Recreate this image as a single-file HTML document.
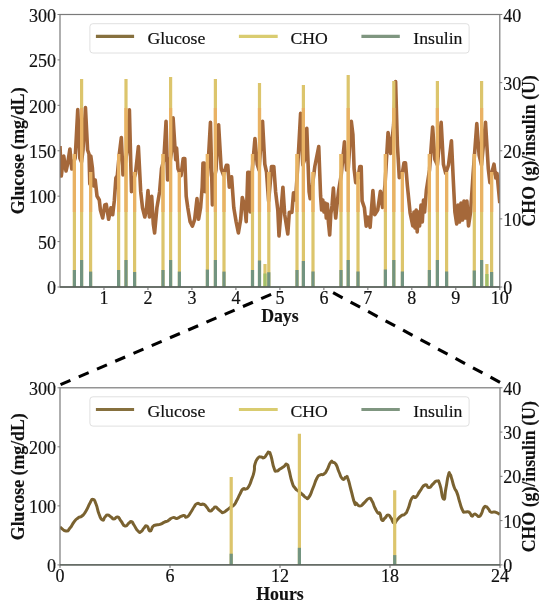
<!DOCTYPE html><html><head><meta charset="utf-8"><style>html,body{margin:0;padding:0;background:#fff;}svg{display:block;will-change:transform;}text{font-family:"Liberation Serif",serif;fill:#111;stroke:#111;stroke-width:0.18px;}text[font-weight]{stroke-width:0.15px;}</style></head><body>
<svg width="550" height="611" viewBox="0 0 550 611">
<rect width="550" height="611" fill="#fff"/>
<defs><clipPath id="ct"><rect x="60.0" y="14.5" width="439.8" height="272.5"/></clipPath><clipPath id="cb"><rect x="60.0" y="387.8" width="440" height="177.1"/></clipPath></defs>
<g clip-path="url(#ct)">
<polyline points="60,146 61.3,176 63.7,156 66,171 67.6,164 69.9,149 71.8,169 73.5,163 75.2,158 77.75,109.5 79.8,158 81.5,162 83,150 85.45,107.5 87.6,150 89,154 89.8,184 90.8,156 92.4,168 93.6,186 95.2,180 97,196 99.3,200 100.4,210 102.7,218 104.8,205 106.3,204.4 108.6,219.3 110.9,207.8 112.7,214.7 114.3,200.9 115.9,178 117.3,175.7 119.2,155 121.35,137.5 123,175 125,165 127.2,150 129.4,109.8 131.5,191.7 133.5,180 135.5,173.4 138.4,146.5 140.7,191.7 142.5,207.8 144.8,217 146.4,210 148,190.6 149.4,217 151.7,196.3 153.3,223.9 154.6,233 156.9,207.8 159.6,191.7 161.5,168.8 163.8,160 166.05,121.3 167.6,180 169.5,165 171.8,150 173.1,117.8 175.7,159.6 176.6,148 178,168.8 181,175.7 183.2,158.5 184.8,158.5 186.2,196.3 187.8,207.8 190.1,221.6 192.4,226.1 194.7,219.3 197,198.6 198.6,219.3 200.6,207.8 202.2,187.2 203,163.1 204.3,163.1 205.2,191.7 207.5,175 210.45,122.4 212.4,205 214,180 216,170 218.6,124.7 221.2,168.8 223.5,175 226.3,165.4 227.8,165.4 229.3,187.2 231.6,176.8 233.8,207.8 236.1,221.6 238.4,233 240.7,219.3 242.3,197.5 244.6,205.5 246.2,221.6 247.8,172.2 249.2,172.2 250.2,212 252.3,170 254.95,138.5 257.2,164.2 259,170 262.55,121.3 264.8,164.2 266.5,172 268.6,201 270.5,180 271.5,166.5 273.8,166.5 275.6,191.7 277.8,210 279,236 282.9,187.2 284.7,214.7 287.8,234 289.3,212.4 291.9,212.4 293.5,192.9 295.5,200 297.5,170 300.6,113.3 302.8,165 304.5,160 306.8,128.2 309.1,191.7 310.2,198.6 312.5,185 314.8,166.5 318.75,146.5 320.6,196 321.6,210 322.8,200 324,212 325.2,203 326.3,218 327.4,204 328.4,222 329.7,235 330.8,214 332,206 333.4,188 334.5,205 335.7,218 337,205 338.7,190 341.2,175 344.45,141.9 346.6,170 348.3,168 351.3,121.3 352.9,134.4 354.1,168.8 355.7,182.6 358,178 359.8,166.5 361.2,166.5 362.1,200.9 364.4,207.8 366.2,226.1 367.8,217 370.1,227.3 372.9,190.6 374.7,214.7 377.7,210 380.4,191.2 382.6,207.4 385,185 388.05,132.6 390.7,153.4 393.6,125 395.6,81.5 397.4,145 399.3,177.7 402,175 404,162.8 405.5,162.8 407.4,185.8 410.1,212.8 412.8,226 414,212 415,228 416.2,210 417.2,232 418.5,212 419.6,226 421,205 422.3,222 423.5,200 424.6,212 426.4,190 429.5,170 432.65,127 434.9,159.6 437.4,165 441.15,122.4 443.4,164.2 445.7,173.4 448.5,165 451.45,140.8 453.3,180.3 454.9,212 456.7,224 458,205 459.5,222 461,203 462.5,220 464,201 465.5,218 466.9,201 468.5,226 470.6,212 473,175 476.8,123.6 479.1,155 481.5,165 485.5,122.4 488.3,168.8 489.9,182.6 492,172 494,164.2 495.8,178 497,173.4 499.8,203.2" fill="none" stroke="#a5683a" stroke-width="3.6" stroke-linejoin="round" stroke-linecap="butt"/>
<line x1="74.4" y1="287" x2="74.4" y2="154" stroke="#dcc56c" stroke-width="3.2" stroke-opacity="1"/>
<line x1="74.4" y1="154" x2="74.4" y2="212" stroke="#e9b264" stroke-width="3.2"/>
<line x1="81.6" y1="287" x2="81.6" y2="79" stroke="#dcc56c" stroke-width="3.2" stroke-opacity="1"/>
<line x1="81.6" y1="108" x2="81.6" y2="212" stroke="#e9b264" stroke-width="3.2"/>
<line x1="90.6" y1="287" x2="90.6" y2="172" stroke="#dcc56c" stroke-width="3.2" stroke-opacity="1"/>
<line x1="90.6" y1="172" x2="90.6" y2="212" stroke="#e9b264" stroke-width="3.2"/>
<line x1="118.6" y1="287" x2="118.6" y2="154" stroke="#dcc56c" stroke-width="3.2" stroke-opacity="1"/>
<line x1="118.6" y1="154" x2="118.6" y2="212" stroke="#e9b264" stroke-width="3.2"/>
<line x1="126" y1="287" x2="126" y2="79" stroke="#dcc56c" stroke-width="3.2" stroke-opacity="1"/>
<line x1="126" y1="108" x2="126" y2="212" stroke="#e9b264" stroke-width="3.2"/>
<line x1="134.6" y1="287" x2="134.6" y2="172" stroke="#dcc56c" stroke-width="3.2" stroke-opacity="1"/>
<line x1="134.6" y1="172" x2="134.6" y2="212" stroke="#e9b264" stroke-width="3.2"/>
<line x1="163" y1="287" x2="163" y2="154" stroke="#dcc56c" stroke-width="3.2" stroke-opacity="1"/>
<line x1="163" y1="154" x2="163" y2="212" stroke="#e9b264" stroke-width="3.2"/>
<line x1="170.6" y1="287" x2="170.6" y2="77" stroke="#dcc56c" stroke-width="3.2" stroke-opacity="1"/>
<line x1="170.6" y1="108" x2="170.6" y2="212" stroke="#e9b264" stroke-width="3.2"/>
<line x1="179.4" y1="287" x2="179.4" y2="172" stroke="#dcc56c" stroke-width="3.2" stroke-opacity="1"/>
<line x1="179.4" y1="172" x2="179.4" y2="212" stroke="#e9b264" stroke-width="3.2"/>
<line x1="207.4" y1="287" x2="207.4" y2="154" stroke="#dcc56c" stroke-width="3.2" stroke-opacity="1"/>
<line x1="207.4" y1="154" x2="207.4" y2="212" stroke="#e9b264" stroke-width="3.2"/>
<line x1="215.4" y1="287" x2="215.4" y2="79" stroke="#dcc56c" stroke-width="3.2" stroke-opacity="1"/>
<line x1="215.4" y1="108" x2="215.4" y2="212" stroke="#e9b264" stroke-width="3.2"/>
<line x1="224" y1="287" x2="224" y2="172" stroke="#dcc56c" stroke-width="3.2" stroke-opacity="1"/>
<line x1="224" y1="172" x2="224" y2="212" stroke="#e9b264" stroke-width="3.2"/>
<line x1="252.5" y1="287" x2="252.5" y2="154" stroke="#dcc56c" stroke-width="3.2" stroke-opacity="1"/>
<line x1="252.5" y1="154" x2="252.5" y2="212" stroke="#e9b264" stroke-width="3.2"/>
<line x1="259.5" y1="287" x2="259.5" y2="83" stroke="#dcc56c" stroke-width="3.2" stroke-opacity="1"/>
<line x1="259.5" y1="108" x2="259.5" y2="212" stroke="#e9b264" stroke-width="3.2"/>
<line x1="265" y1="287" x2="265" y2="264" stroke="#dcc56c" stroke-width="3.2" stroke-opacity="1"/>
<line x1="268.8" y1="287" x2="268.8" y2="172" stroke="#dcc56c" stroke-width="3.2" stroke-opacity="1"/>
<line x1="268.8" y1="172" x2="268.8" y2="212" stroke="#e9b264" stroke-width="3.2"/>
<line x1="297" y1="287" x2="297" y2="154" stroke="#dcc56c" stroke-width="3.2" stroke-opacity="1"/>
<line x1="297" y1="154" x2="297" y2="212" stroke="#e9b264" stroke-width="3.2"/>
<line x1="303.4" y1="287" x2="303.4" y2="85" stroke="#dcc56c" stroke-width="3.2" stroke-opacity="1"/>
<line x1="303.4" y1="108" x2="303.4" y2="212" stroke="#e9b264" stroke-width="3.2"/>
<line x1="313" y1="287" x2="313" y2="172" stroke="#dcc56c" stroke-width="3.2" stroke-opacity="1"/>
<line x1="313" y1="172" x2="313" y2="212" stroke="#e9b264" stroke-width="3.2"/>
<line x1="341" y1="287" x2="341" y2="154" stroke="#dcc56c" stroke-width="3.2" stroke-opacity="1"/>
<line x1="341" y1="154" x2="341" y2="212" stroke="#e9b264" stroke-width="3.2"/>
<line x1="348.2" y1="287" x2="348.2" y2="75" stroke="#dcc56c" stroke-width="3.2" stroke-opacity="1"/>
<line x1="348.2" y1="108" x2="348.2" y2="212" stroke="#e9b264" stroke-width="3.2"/>
<line x1="358" y1="287" x2="358" y2="172" stroke="#dcc56c" stroke-width="3.2" stroke-opacity="1"/>
<line x1="358" y1="172" x2="358" y2="212" stroke="#e9b264" stroke-width="3.2"/>
<line x1="385.4" y1="287" x2="385.4" y2="154" stroke="#dcc56c" stroke-width="3.2" stroke-opacity="1"/>
<line x1="385.4" y1="154" x2="385.4" y2="212" stroke="#e9b264" stroke-width="3.2"/>
<line x1="393.8" y1="287" x2="393.8" y2="81" stroke="#dcc56c" stroke-width="3.2" stroke-opacity="1"/>
<line x1="393.8" y1="108" x2="393.8" y2="212" stroke="#e9b264" stroke-width="3.2"/>
<line x1="402.4" y1="287" x2="402.4" y2="172" stroke="#dcc56c" stroke-width="3.2" stroke-opacity="1"/>
<line x1="402.4" y1="172" x2="402.4" y2="212" stroke="#e9b264" stroke-width="3.2"/>
<line x1="429.4" y1="287" x2="429.4" y2="154" stroke="#dcc56c" stroke-width="3.2" stroke-opacity="1"/>
<line x1="429.4" y1="154" x2="429.4" y2="212" stroke="#e9b264" stroke-width="3.2"/>
<line x1="437.4" y1="287" x2="437.4" y2="81" stroke="#dcc56c" stroke-width="3.2" stroke-opacity="1"/>
<line x1="437.4" y1="108" x2="437.4" y2="212" stroke="#e9b264" stroke-width="3.2"/>
<line x1="446.6" y1="287" x2="446.6" y2="172" stroke="#dcc56c" stroke-width="3.2" stroke-opacity="1"/>
<line x1="446.6" y1="172" x2="446.6" y2="212" stroke="#e9b264" stroke-width="3.2"/>
<line x1="474.3" y1="287" x2="474.3" y2="154" stroke="#dcc56c" stroke-width="3.2" stroke-opacity="1"/>
<line x1="474.3" y1="154" x2="474.3" y2="212" stroke="#e9b264" stroke-width="3.2"/>
<line x1="481.6" y1="287" x2="481.6" y2="81" stroke="#dcc56c" stroke-width="3.2" stroke-opacity="1"/>
<line x1="481.6" y1="108" x2="481.6" y2="212" stroke="#e9b264" stroke-width="3.2"/>
<line x1="486.9" y1="287" x2="486.9" y2="264" stroke="#dcc56c" stroke-width="3.2" stroke-opacity="1"/>
<line x1="491.6" y1="287" x2="491.6" y2="172" stroke="#dcc56c" stroke-width="3.2" stroke-opacity="1"/>
<line x1="491.6" y1="172" x2="491.6" y2="212" stroke="#e9b264" stroke-width="3.2"/>
<line x1="74.4" y1="287" x2="74.4" y2="270" stroke="#739480" stroke-width="3.2"/>
<line x1="81.6" y1="287" x2="81.6" y2="260" stroke="#739480" stroke-width="3.2"/>
<line x1="90.6" y1="287" x2="90.6" y2="271.6" stroke="#739480" stroke-width="3.2"/>
<line x1="118.6" y1="287" x2="118.6" y2="270" stroke="#739480" stroke-width="3.2"/>
<line x1="126" y1="287" x2="126" y2="260" stroke="#739480" stroke-width="3.2"/>
<line x1="134.6" y1="287" x2="134.6" y2="272" stroke="#739480" stroke-width="3.2"/>
<line x1="163" y1="287" x2="163" y2="270" stroke="#739480" stroke-width="3.2"/>
<line x1="170.6" y1="287" x2="170.6" y2="260" stroke="#739480" stroke-width="3.2"/>
<line x1="179.4" y1="287" x2="179.4" y2="271.6" stroke="#739480" stroke-width="3.2"/>
<line x1="207.4" y1="287" x2="207.4" y2="269.6" stroke="#739480" stroke-width="3.2"/>
<line x1="215.4" y1="287" x2="215.4" y2="260" stroke="#739480" stroke-width="3.2"/>
<line x1="224" y1="287" x2="224" y2="271.6" stroke="#739480" stroke-width="3.2"/>
<line x1="252.5" y1="287" x2="252.5" y2="270" stroke="#739480" stroke-width="3.2"/>
<line x1="259.5" y1="287" x2="259.5" y2="260.5" stroke="#739480" stroke-width="3.2"/>
<line x1="265" y1="287" x2="265" y2="273.5" stroke="#a2bf6a" stroke-width="3.2"/>
<line x1="268.8" y1="287" x2="268.8" y2="272.3" stroke="#739480" stroke-width="3.2"/>
<line x1="297" y1="287" x2="297" y2="270" stroke="#739480" stroke-width="3.2"/>
<line x1="303.4" y1="287" x2="303.4" y2="261" stroke="#739480" stroke-width="3.2"/>
<line x1="313" y1="287" x2="313" y2="271.6" stroke="#739480" stroke-width="3.2"/>
<line x1="341" y1="287" x2="341" y2="270" stroke="#739480" stroke-width="3.2"/>
<line x1="348.2" y1="287" x2="348.2" y2="260" stroke="#739480" stroke-width="3.2"/>
<line x1="358" y1="287" x2="358" y2="271.6" stroke="#739480" stroke-width="3.2"/>
<line x1="385.4" y1="287" x2="385.4" y2="269.6" stroke="#739480" stroke-width="3.2"/>
<line x1="393.8" y1="287" x2="393.8" y2="260" stroke="#739480" stroke-width="3.2"/>
<line x1="402.4" y1="287" x2="402.4" y2="271.6" stroke="#739480" stroke-width="3.2"/>
<line x1="429.4" y1="287" x2="429.4" y2="270" stroke="#739480" stroke-width="3.2"/>
<line x1="437.4" y1="287" x2="437.4" y2="260" stroke="#739480" stroke-width="3.2"/>
<line x1="446.6" y1="287" x2="446.6" y2="271.6" stroke="#739480" stroke-width="3.2"/>
<line x1="474.3" y1="287" x2="474.3" y2="270.5" stroke="#739480" stroke-width="3.2"/>
<line x1="481.6" y1="287" x2="481.6" y2="260" stroke="#739480" stroke-width="3.2"/>
<line x1="486.9" y1="287" x2="486.9" y2="274" stroke="#a2bf6a" stroke-width="3.2"/>
<line x1="491.6" y1="287" x2="491.6" y2="272" stroke="#739480" stroke-width="3.2"/>
</g>
<rect x="60" y="14.5" width="439.8" height="272.5" fill="none" stroke="#7a7a7a" stroke-width="1.2"/>
<line x1="60.0" y1="287.0" x2="499.8" y2="287.0" stroke="#535c55" stroke-width="1.4"/>
<rect x="89.9" y="23.7" width="379.2" height="29.3" rx="3" ry="3" fill="#fff" fill-opacity="0.8" stroke="#e0e0e0" stroke-width="1"/>
<line x1="95.9" y1="36.4" x2="134.1" y2="36.4" stroke="#86703e" stroke-width="3.2"/>
<text x="147.4" y="43.9" font-size="17.7">Glucose</text>
<line x1="238.9" y1="36.4" x2="277.7" y2="36.4" stroke="#d9cc70" stroke-width="3.2"/>
<text x="290.4" y="43.9" font-size="17.7">CHO</text>
<line x1="361.4" y1="36.4" x2="399.8" y2="36.4" stroke="#7f9680" stroke-width="3.2"/>
<text x="413.3" y="43.9" font-size="17.7">Insulin</text>
<line x1="57.5" y1="287" x2="60" y2="287" stroke="#7a7a7a" stroke-width="1"/>
<text x="55.9" y="294.2" text-anchor="end" font-size="18">0</text>
<line x1="57.5" y1="241.58" x2="60" y2="241.58" stroke="#7a7a7a" stroke-width="1"/>
<text x="55.9" y="248.78" text-anchor="end" font-size="18">50</text>
<line x1="57.5" y1="196.17" x2="60" y2="196.17" stroke="#7a7a7a" stroke-width="1"/>
<text x="55.9" y="203.37" text-anchor="end" font-size="18">100</text>
<line x1="57.5" y1="150.75" x2="60" y2="150.75" stroke="#7a7a7a" stroke-width="1"/>
<text x="55.9" y="157.95" text-anchor="end" font-size="18">150</text>
<line x1="57.5" y1="105.33" x2="60" y2="105.33" stroke="#7a7a7a" stroke-width="1"/>
<text x="55.9" y="112.53" text-anchor="end" font-size="18">200</text>
<line x1="57.5" y1="59.92" x2="60" y2="59.92" stroke="#7a7a7a" stroke-width="1"/>
<text x="55.9" y="67.12" text-anchor="end" font-size="18">250</text>
<line x1="57.5" y1="14.5" x2="60" y2="14.5" stroke="#7a7a7a" stroke-width="1"/>
<text x="55.9" y="21.7" text-anchor="end" font-size="18">300</text>
<line x1="499.8" y1="287" x2="502.3" y2="287" stroke="#7a7a7a" stroke-width="1"/>
<text x="503.2" y="294" font-size="18">0</text>
<line x1="499.8" y1="218.88" x2="502.3" y2="218.88" stroke="#7a7a7a" stroke-width="1"/>
<text x="503.2" y="225.88" font-size="18">10</text>
<line x1="499.8" y1="150.75" x2="502.3" y2="150.75" stroke="#7a7a7a" stroke-width="1"/>
<text x="503.2" y="157.75" font-size="18">20</text>
<line x1="499.8" y1="82.62" x2="502.3" y2="82.62" stroke="#7a7a7a" stroke-width="1"/>
<text x="503.2" y="89.62" font-size="18">30</text>
<line x1="499.8" y1="14.5" x2="502.3" y2="14.5" stroke="#7a7a7a" stroke-width="1"/>
<text x="503.2" y="21.5" font-size="18">40</text>
<line x1="103.98" y1="287" x2="103.98" y2="290" stroke="#6a6a6a" stroke-width="1"/>
<text x="103.98" y="303.6" text-anchor="middle" font-size="18">1</text>
<line x1="147.96" y1="287" x2="147.96" y2="290" stroke="#6a6a6a" stroke-width="1"/>
<text x="147.96" y="303.6" text-anchor="middle" font-size="18">2</text>
<line x1="191.94" y1="287" x2="191.94" y2="290" stroke="#6a6a6a" stroke-width="1"/>
<text x="191.94" y="303.6" text-anchor="middle" font-size="18">3</text>
<line x1="235.92" y1="287" x2="235.92" y2="290" stroke="#6a6a6a" stroke-width="1"/>
<text x="235.92" y="303.6" text-anchor="middle" font-size="18">4</text>
<line x1="279.9" y1="287" x2="279.9" y2="290" stroke="#6a6a6a" stroke-width="1"/>
<text x="279.9" y="303.6" text-anchor="middle" font-size="18">5</text>
<line x1="323.88" y1="287" x2="323.88" y2="290" stroke="#6a6a6a" stroke-width="1"/>
<text x="323.88" y="303.6" text-anchor="middle" font-size="18">6</text>
<line x1="367.86" y1="287" x2="367.86" y2="290" stroke="#6a6a6a" stroke-width="1"/>
<text x="367.86" y="303.6" text-anchor="middle" font-size="18">7</text>
<line x1="411.84" y1="287" x2="411.84" y2="290" stroke="#6a6a6a" stroke-width="1"/>
<text x="411.84" y="303.6" text-anchor="middle" font-size="18">8</text>
<line x1="455.82" y1="287" x2="455.82" y2="290" stroke="#6a6a6a" stroke-width="1"/>
<text x="455.82" y="303.6" text-anchor="middle" font-size="18">9</text>
<line x1="499.8" y1="287" x2="499.8" y2="290" stroke="#6a6a6a" stroke-width="1"/>
<text x="499.8" y="303.6" text-anchor="middle" font-size="18">10</text>
<text x="279.9" y="321.6" text-anchor="middle" font-size="17.8" font-weight="bold">Days</text>
<text transform="translate(23.8,150.9) rotate(-90)" text-anchor="middle" font-size="17.8" font-weight="bold">Glucose (mg/dL)</text>
<text transform="translate(535.2,150.9) rotate(-90)" text-anchor="middle" font-size="17.8" font-weight="bold">CHO (g)/insulin (U)</text>
<g clip-path="url(#cb)">
<path d="M60,527 C62,528.33 62.67,530.67 66,531 C69.33,531.33 67.33,531 70,528 C72.67,525 71.33,525.33 74,522 C76.67,518.67 75.33,520 78,518 C80.67,516 79.33,518.33 82,516 C84.67,513.67 83.33,515.33 86,511 C88.67,506.67 87.67,506.87 90,503 C92.33,499.13 91,499.07 93,499.4 C95,499.73 94,499.13 96,504 C98,508.87 96.87,508.67 99,514 C101.13,519.33 100.4,519 102.4,520 C104.4,521 103.27,518.67 105,517 C106.73,515.33 105.6,515 107.6,515 C109.6,515 108.87,515.67 111,517 C113.13,518.33 111.8,519 114,519 C116.2,519 115.27,516.33 117.6,517 C119.93,517.67 118.53,518 121,521 C123.47,524 122.33,525.33 125,526 C127.67,526.67 126.8,524.47 129,523 C131.2,521.53 129.93,520.93 131.6,521.6 C133.27,522.27 131.87,521.87 134,525 C136.13,528.13 135.67,528.8 138,531 C140.33,533.2 139,532.6 141,531.6 C143,530.6 142,529.87 144,528 C146,526.13 145,525 147,526 C149,527 148,530.87 150,531 C152,531.13 151,528.4 153,526.4 C155,524.4 153.67,525.67 156,525 C158.33,524.33 157.33,525.27 160,524.4 C162.67,523.53 161.47,523.53 164,522.4 C166.53,521.27 165.93,521.8 167.6,521 C169.27,520.2 167.2,521.13 169,520 C170.8,518.87 170.33,518.13 173,517.6 C175.67,517.07 174.33,518.8 177,518.4 C179.67,518 178.67,517.33 181,516.4 C183.33,515.47 182,515.4 184,515.6 C186,515.8 184.67,518.2 187,517 C189.33,515.8 188.67,515.33 191,512 C193.33,508.67 192,509.8 194,507 C196,504.2 194.8,504.47 197,503.6 C199.2,502.73 198.27,504.13 200.6,504.4 C202.93,504.67 201.87,503.33 204,504.4 C206.13,505.47 205,505.4 207,507.6 C209,509.8 208,510.53 210,511 C212,511.47 211.2,510.33 213,509 C214.8,507.67 213.73,507 215.4,507 C217.07,507 216.13,507.47 218,509 C219.87,510.53 219.2,510.47 221,511.6 C222.8,512.73 221.4,512.93 223.4,512.4 C225.4,511.87 224.47,511.8 227,510 C229.53,508.2 228.67,508.67 231,507 C233.33,505.33 232,507.33 234,505 C236,502.67 235,503.67 237,500 C239,496.33 238,497.67 240,494 C242,490.33 241,490.67 243,489 C245,487.33 244,490 246,489 C248,488 247.2,489 249,486 C250.8,483 249.73,484.67 251.4,480 C253.07,475.33 252.8,477.33 254,472 C255.2,466.67 253.67,468.67 255,464 C256.33,459.33 256,460.33 258,458 C260,455.67 259,457.13 261,457 C263,456.87 262,458.6 264,457.6 C266,456.6 265.33,455.73 267,454 C268.67,452.27 267.67,451.73 269,452.4 C270.33,453.07 269.33,450.8 271,456 C272.67,461.2 272.13,463 274,468 C275.87,473 274.6,470.67 276.6,471 C278.6,471.33 277.53,470.53 280,469 C282.47,467.47 281.67,467.93 284,466.4 C286.33,464.87 285.33,463.2 287,464.4 C288.67,465.6 287.33,464.13 289,470 C290.67,475.87 290,476 292,482 C294,488 292.67,484.8 295,488 C297.33,491.2 296.33,489.27 299,491.6 C301.67,493.93 300.67,493 303,495 C305.33,497 304,496.93 306,497.6 C308,498.27 306.67,500.2 309,497 C311.33,493.8 310.33,494.33 313,488 C315.67,481.67 314.67,482.33 317,478 C319.33,473.67 317.67,476.33 320,475 C322.33,473.67 321.67,475.67 324,474 C326.33,472.33 324.8,473.87 327,470 C329.2,466.13 328.6,464.93 330.6,462.4 C332.6,459.87 331.2,461.73 333,462.4 C334.8,463.07 334,461.2 336,464.4 C338,467.6 336.8,467.13 339,472 C341.2,476.87 340.27,477.33 342.6,479 C344.93,480.67 344.2,477 346,477 C347.8,477 346.33,474.67 348,479 C349.67,483.33 348.8,482 351,490 C353.2,498 352.93,498.67 354.6,503 C356.27,507.33 354.2,502 356,503 C357.8,504 357.33,506 360,506 C362.67,506 361,505.53 364,503 C367,500.47 366.33,499.07 369,498.4 C371.67,497.73 370,497.8 372,501 C374,504.2 373,504 375,508 C377,512 376.33,511.13 378,513 C379.67,514.87 378.67,511.27 380,513.6 C381.33,515.93 380.33,518.53 382,520 C383.67,521.47 383,519.67 385,518 C387,516.33 386,515 388,515 C390,515 389,515.33 391,518 C393,520.67 392,522.33 394,523 C396,523.67 394.67,522.33 397,520 C399.33,517.67 398.33,518 401,516 C403.67,514 402.67,516.33 405,514 C407.33,511.67 405.67,514.33 408,509 C410.33,503.67 409.33,502 412,498 C414.67,494 413.33,499.33 416,497 C418.67,494.67 417,495 420,491 C423,487 422,486.13 425,485 C428,483.87 426.33,487.93 429,487.6 C431.67,487.27 430.33,486.2 433,484 C435.67,481.8 434.67,480.67 437,481 C439.33,481.33 437.83,479 440,485 C442.17,491 441.53,497.87 443.5,499 C445.47,500.13 444.3,496.27 445.9,488.4 C447.5,480.53 446.93,480.13 448.3,475.4 C449.67,470.67 448.83,473 450,474.2 C451.17,475.4 450.4,474.67 451.8,479 C453.2,483.33 452.43,482.5 454.2,487.2 C455.97,491.9 455.33,488.37 457.1,493.1 C458.87,497.83 457.7,495.7 459.5,501.4 C461.3,507.1 460.73,506.67 462.5,510.2 C464.27,513.73 463.03,511.47 464.8,512 C466.57,512.53 466.03,511.4 467.8,511.8 C469.57,512.2 468.73,511.77 470.1,513.2 C471.47,514.63 470.5,515.8 471.9,516.1 C473.3,516.4 472.73,514.47 474.3,514.1 C475.87,513.73 475.03,514.2 476.6,515 C478.17,515.8 477.4,516.9 479,516.5 C480.6,516.1 479.83,516.67 481.4,513.8 C482.97,510.93 482.13,510.27 483.7,507.9 C485.27,505.53 484.5,506.3 486.1,506.7 C487.7,507.1 486.93,507.33 488.5,509.1 C490.07,510.87 489.03,511.03 490.8,512 C492.57,512.97 491.83,511.8 493.8,512 C495.77,512.2 494.73,511.8 496.7,512.6 C498.67,513.4 498.7,513.8 499.7,514.4" fill="none" stroke="#7a6230" stroke-width="3.0" stroke-linejoin="round"/>
<line x1="231.2" y1="564.9" x2="231.2" y2="477.1" stroke="#dcc56c" stroke-width="3.2" stroke-opacity="1"/>
<line x1="299.4" y1="564.9" x2="299.4" y2="433.7" stroke="#dcc56c" stroke-width="3.2" stroke-opacity="1"/>
<line x1="394.7" y1="564.9" x2="394.7" y2="490.3" stroke="#dcc56c" stroke-width="3.2" stroke-opacity="1"/>
<line x1="231.2" y1="564.9" x2="231.2" y2="553.7" stroke="#739480" stroke-width="3.2"/>
<line x1="299.4" y1="564.9" x2="299.4" y2="547.8" stroke="#739480" stroke-width="3.2"/>
<line x1="394.7" y1="564.9" x2="394.7" y2="555.1" stroke="#739480" stroke-width="3.2"/>
</g>
<rect x="60" y="387.8" width="440" height="177.1" fill="none" stroke="#7a7a7a" stroke-width="1.2"/>
<line x1="60.0" y1="564.9" x2="500.0" y2="564.9" stroke="#535c55" stroke-width="1.4"/>
<rect x="89.9" y="396.8" width="379.2" height="29.3" rx="3" ry="3" fill="#fff" fill-opacity="0.8" stroke="#e0e0e0" stroke-width="1"/>
<line x1="95.9" y1="409.5" x2="134.1" y2="409.5" stroke="#86703e" stroke-width="3.2"/>
<text x="147.4" y="417" font-size="17.7">Glucose</text>
<line x1="238.9" y1="409.5" x2="277.7" y2="409.5" stroke="#d9cc70" stroke-width="3.2"/>
<text x="290.4" y="417" font-size="17.7">CHO</text>
<line x1="361.4" y1="409.5" x2="399.8" y2="409.5" stroke="#7f9680" stroke-width="3.2"/>
<text x="413.3" y="417" font-size="17.7">Insulin</text>
<line x1="57.5" y1="564.9" x2="60" y2="564.9" stroke="#7a7a7a" stroke-width="1"/>
<text x="55.9" y="572.1" text-anchor="end" font-size="18">0</text>
<line x1="57.5" y1="505.87" x2="60" y2="505.87" stroke="#7a7a7a" stroke-width="1"/>
<text x="55.9" y="513.07" text-anchor="end" font-size="18">100</text>
<line x1="57.5" y1="446.83" x2="60" y2="446.83" stroke="#7a7a7a" stroke-width="1"/>
<text x="55.9" y="454.03" text-anchor="end" font-size="18">200</text>
<line x1="57.5" y1="387.8" x2="60" y2="387.8" stroke="#7a7a7a" stroke-width="1"/>
<text x="55.9" y="395" text-anchor="end" font-size="18">300</text>
<line x1="500" y1="564.9" x2="502.5" y2="564.9" stroke="#7a7a7a" stroke-width="1"/>
<text x="503.2" y="571.9" font-size="18">0</text>
<line x1="500" y1="520.62" x2="502.5" y2="520.62" stroke="#7a7a7a" stroke-width="1"/>
<text x="503.2" y="527.62" font-size="18">10</text>
<line x1="500" y1="476.35" x2="502.5" y2="476.35" stroke="#7a7a7a" stroke-width="1"/>
<text x="503.2" y="483.35" font-size="18">20</text>
<line x1="500" y1="432.07" x2="502.5" y2="432.07" stroke="#7a7a7a" stroke-width="1"/>
<text x="503.2" y="439.07" font-size="18">30</text>
<line x1="500" y1="387.8" x2="502.5" y2="387.8" stroke="#7a7a7a" stroke-width="1"/>
<text x="503.2" y="394.8" font-size="18">40</text>
<line x1="60" y1="564.9" x2="60" y2="567.9" stroke="#6a6a6a" stroke-width="1"/>
<text x="60" y="581.5" text-anchor="middle" font-size="18">0</text>
<line x1="170" y1="564.9" x2="170" y2="567.9" stroke="#6a6a6a" stroke-width="1"/>
<text x="170" y="581.5" text-anchor="middle" font-size="18">6</text>
<line x1="280" y1="564.9" x2="280" y2="567.9" stroke="#6a6a6a" stroke-width="1"/>
<text x="280" y="581.5" text-anchor="middle" font-size="18">12</text>
<line x1="390" y1="564.9" x2="390" y2="567.9" stroke="#6a6a6a" stroke-width="1"/>
<text x="390" y="581.5" text-anchor="middle" font-size="18">18</text>
<line x1="500" y1="564.9" x2="500" y2="567.9" stroke="#6a6a6a" stroke-width="1"/>
<text x="500" y="581.5" text-anchor="middle" font-size="18">24</text>
<text x="280" y="599.5" text-anchor="middle" font-size="17.8" font-weight="bold">Hours</text>
<text transform="translate(23.8,476.7) rotate(-90)" text-anchor="middle" font-size="17.8" font-weight="bold">Glucose (mg/dL)</text>
<text transform="translate(535.2,476.7) rotate(-90)" text-anchor="middle" font-size="17.8" font-weight="bold">CHO (g)/insulin (U)</text>
<line x1="60.5" y1="384.7" x2="70.43" y2="380.45" stroke="#000" stroke-width="3.1"/>
<line x1="78.74" y1="376.88" x2="88.67" y2="372.63" stroke="#000" stroke-width="3.1"/>
<line x1="96.99" y1="369.06" x2="106.92" y2="364.81" stroke="#000" stroke-width="3.1"/>
<line x1="115.23" y1="361.24" x2="125.16" y2="356.99" stroke="#000" stroke-width="3.1"/>
<line x1="133.48" y1="353.42" x2="143.41" y2="349.17" stroke="#000" stroke-width="3.1"/>
<line x1="151.72" y1="345.6" x2="161.65" y2="341.35" stroke="#000" stroke-width="3.1"/>
<line x1="169.97" y1="337.78" x2="179.9" y2="333.53" stroke="#000" stroke-width="3.1"/>
<line x1="188.21" y1="329.96" x2="198.14" y2="325.71" stroke="#000" stroke-width="3.1"/>
<line x1="206.46" y1="322.14" x2="216.39" y2="317.89" stroke="#000" stroke-width="3.1"/>
<line x1="224.7" y1="314.32" x2="234.63" y2="310.07" stroke="#000" stroke-width="3.1"/>
<line x1="242.95" y1="306.5" x2="252.88" y2="302.25" stroke="#000" stroke-width="3.1"/>
<line x1="261.19" y1="298.68" x2="271.12" y2="294.43" stroke="#000" stroke-width="3.1"/>
<line x1="500" y1="382.3" x2="490.49" y2="377.19" stroke="#000" stroke-width="3.1"/>
<line x1="482.51" y1="372.91" x2="473" y2="367.8" stroke="#000" stroke-width="3.1"/>
<line x1="465.02" y1="363.52" x2="455.51" y2="358.41" stroke="#000" stroke-width="3.1"/>
<line x1="447.54" y1="354.13" x2="438.02" y2="349.02" stroke="#000" stroke-width="3.1"/>
<line x1="430.05" y1="344.74" x2="420.53" y2="339.63" stroke="#000" stroke-width="3.1"/>
<line x1="412.56" y1="335.34" x2="403.05" y2="330.24" stroke="#000" stroke-width="3.1"/>
<line x1="395.07" y1="325.95" x2="385.56" y2="320.84" stroke="#000" stroke-width="3.1"/>
<line x1="377.58" y1="316.56" x2="368.07" y2="311.45" stroke="#000" stroke-width="3.1"/>
<line x1="360.1" y1="307.17" x2="350.58" y2="302.06" stroke="#000" stroke-width="3.1"/>
<line x1="342.61" y1="297.78" x2="333.09" y2="292.67" stroke="#000" stroke-width="3.1"/>
</svg></body></html>
